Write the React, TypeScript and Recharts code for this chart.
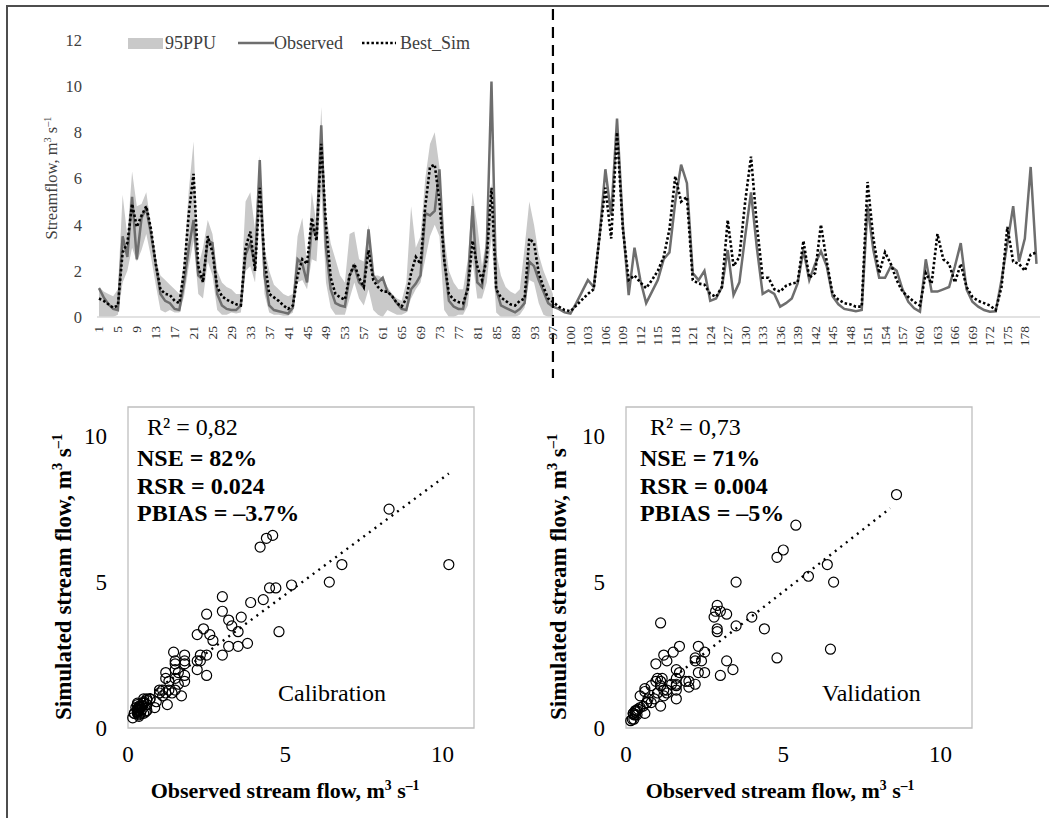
import React from 'react';
import {
  ComposedChart,
  Area,
  Line,
  XAxis,
  YAxis,
  ReferenceLine,
  ReferenceArea,
  ScatterChart,
  Scatter,
} from 'recharts';

const SERIF = '"Liberation Serif", "Times New Roman", serif';

// monthly streamflow, calibration period (months 1-97)
const calObserved = [
  1.25, 0.85, 0.55, 0.35, 0.3, 3.5, 2.6, 5.2, 2.5, 4.3,
  4.7, 3.6, 2.3, 1.0, 0.7, 0.6, 0.35, 0.3, 1.5, 3.0,
  4.2, 1.8, 1.6, 3.3, 3.2, 1.0, 0.5, 0.35, 0.3, 0.3,
  0.5, 2.7, 3.2, 2.2, 6.8, 1.8, 0.5, 0.3, 0.25, 0.2,
  0.15, 0.4, 2.5, 2.3, 1.5, 3.9, 3.5, 8.3, 3.0, 1.2,
  0.6, 0.5, 0.45, 1.8, 2.2, 1.5, 1.3, 3.8, 1.8, 1.5,
  1.7, 1.1, 0.9, 0.6, 0.35, 0.3, 1.2, 1.45, 1.8, 4.5,
  4.4, 4.6, 6.4, 2.5, 0.7, 0.45, 0.35, 0.35, 1.4, 4.8,
  1.5, 1.3, 3.0, 10.2, 1.2, 0.5, 0.4, 0.3, 0.2, 0.35,
  0.6, 2.4, 2.2, 1.6, 1.1, 0.6, 0.45,
];
const calSimulated = [
  0.8, 0.7, 0.55, 0.4, 0.5, 2.8, 3.2, 4.9, 3.9, 4.4,
  4.8, 3.8, 2.3, 1.2, 1.0, 0.95, 0.7, 0.6, 2.0, 4.5,
  6.2, 2.2, 1.5, 3.5, 2.8, 1.3, 0.9, 0.75, 0.65, 0.55,
  0.5, 3.0, 3.7, 2.0, 5.6, 2.5, 1.0, 0.85, 0.7, 0.5,
  0.35, 0.5, 1.8, 2.5, 2.3, 4.3, 3.3, 7.5, 4.0, 1.7,
  1.0, 0.85, 0.75, 1.8, 2.3, 1.7, 1.3, 2.9, 1.6, 1.3,
  1.1, 1.1, 0.9, 0.6, 0.45, 0.8, 1.9, 2.6, 2.3, 4.8,
  6.5, 6.6, 5.0, 2.5, 1.0, 0.75, 0.65, 0.6, 1.2, 3.3,
  2.2, 1.6, 2.5, 5.6, 1.2, 0.85, 0.7, 0.55, 0.5, 0.7,
  0.8, 3.4, 3.2, 1.9, 1.3, 0.8, 0.65,
];
const ppuLower = [
  0, 0, 0, 0, 0.1, 1.5, 2.0, 3.0, 2.4, 2.9,
  3.6, 2.6, 1.4, 0.3, 0.2, 0.3, 0.2, 0.2, 0.9, 2.2,
  3.3, 1.0, 0.8, 2.4, 1.8, 0.3, 0.1, 0.1, 0.2, 0.15,
  0.2, 2.0, 2.2, 1.5, 4.5, 1.0, 0.2, 0.1, 0.1, 0.05,
  0.05, 0.2, 1.5, 1.6, 1.2, 2.5, 2.4, 5.5, 1.5, 0.4,
  0.1, 0.1, 0.1, 0.8, 1.5, 0.8, 0.5, 1.2, 0.3, 0.1,
  0, 0.3, 0.2, 0.1, 0.1, 0.2, 0.8, 1.2, 1.5, 2.5,
  3.5, 4.0, 3.5, 0.3, 0, 0, 0.1, 0.1, 0.5, 2.4,
  0.8, 0.8, 1.5, 3.5, 0.2, 0, 0, 0, 0, 0.1,
  0.4, 1.6, 1.5, 0.6, 0.1, 0, 0,
];
const ppuUpper = [
  1.3, 1.1, 1.0, 0.9, 1.2, 5.3, 3.5, 6.3, 4.8, 4.9,
  5.4, 4.0, 2.5, 1.8, 1.6, 1.4, 1.2, 1.0, 2.5, 5.5,
  7.6, 2.2, 3.0, 4.2, 3.6, 2.0, 1.5, 1.3, 1.2, 1.0,
  1.0, 5.0, 5.4, 3.8, 7.0, 3.0, 2.0, 1.4, 1.2, 1.0,
  0.9, 1.0, 3.5, 4.3, 2.3, 5.4, 4.0, 9.1, 4.5, 3.2,
  2.5, 1.8, 1.5, 3.6, 3.7, 2.5, 2.4, 4.0, 1.8, 1.8,
  1.7, 1.3, 1.0, 0.8, 0.7, 1.5, 4.8, 3.0, 3.5, 6.0,
  7.5, 8.0, 6.5, 3.5, 2.0, 1.5, 1.2, 1.2, 2.5, 5.4,
  4.0, 2.2, 3.5, 5.8, 2.8, 1.8, 1.3, 1.1, 1.0, 1.2,
  3.0, 5.0, 4.0, 2.7, 2.0, 1.5, 1.0,
];

// validation period (months 98-180)
const valObserved = [
  0.35, 0.2, 0.15, 0.6, 1.1, 1.6, 1.3, 3.5, 6.4, 4.4,
  8.6, 4.0, 0.95, 3.0, 1.6, 0.6, 1.1, 1.6, 2.5, 2.8,
  5.0, 6.6, 5.8, 1.9, 1.6, 2.0, 0.7, 0.8, 1.3, 2.9,
  0.95, 1.5, 3.5, 5.4, 3.0, 1.0, 1.15, 1.0, 0.45, 0.6,
  0.8, 1.45, 2.9, 1.6, 2.3, 2.85, 2.2, 0.9, 0.55, 0.35,
  0.3, 0.25, 0.3, 4.8, 2.9, 1.7, 1.7, 2.2, 2.0, 1.2,
  0.66, 0.38, 0.23, 2.5, 1.1, 1.1, 1.2, 1.3, 2.2, 3.2,
  1.2, 0.66, 0.45, 0.3, 0.23, 0.25, 1.6, 3.2, 4.8, 2.4,
  3.4, 6.5, 2.3,
];
const valSimulated = [
  0.45, 0.3, 0.25, 0.5, 0.75, 1.0, 1.2, 3.5, 5.6, 3.4,
  8.0, 3.8, 1.6, 1.8, 1.5, 1.25, 1.6, 2.0, 2.6, 3.8,
  6.1, 5.0, 5.2, 1.6, 1.45, 1.4, 1.0, 0.87, 1.3, 4.2,
  2.2, 2.6, 5.0, 6.95, 4.0, 1.7, 1.7, 1.2, 1.1, 1.35,
  1.45, 1.5, 3.3, 1.7, 1.9, 4.0, 2.4, 1.0, 0.75, 0.6,
  0.55, 0.45, 0.45, 5.85, 3.4, 1.9, 2.8, 2.3, 1.6, 1.1,
  0.87, 0.65, 0.5, 1.9, 1.45, 3.6, 2.5, 2.3, 1.5, 2.3,
  1.3, 0.87, 0.7, 0.6, 0.5, 0.3, 1.3, 3.9, 2.4, 2.3,
  2.0, 2.7, 2.8,
];

const xTickLabels = [
  1, 5, 9, 13, 17, 21, 25, 29, 33, 37, 41, 45, 49, 53, 57, 61, 65, 69, 73, 77, 81, 85, 89, 93, 97,
  100, 103, 106, 109, 112, 115, 118, 121, 124, 127, 130, 133, 136, 139, 142, 145, 148, 151, 154,
  157, 160, 163, 166, 169, 172, 175, 178,
];
const flowTicks = [0, 2, 4, 6, 8, 10, 12];
const scatterTicks = [0, 5, 10];

// trendlines
const calTrend = [{ x: 0.15, y: 0.7 }, { x: 10.2, y: 8.72 }];
const valTrend = [{ x: 0.15, y: 0.59 }, { x: 8.4, y: 7.53 }];

// the reference axis is drawn wider per month after the split
const SPLIT = 97;
const STRETCH = 1.232;
const warp = (m: number) => (m <= SPLIT ? m : SPLIT + (m - SPLIT) * STRETCH);
const unwarp = (v: number) => Math.round(v <= SPLIT ? v : SPLIT + (v - SPLIT) / STRETCH);

const observed = [...calObserved, ...valObserved];
const simulated = [...calSimulated, ...valSimulated];
const rows = observed.map((o, i) => ({
  month: i + 1,
  obs: o,
  sim: simulated[i],
  ppu: i < ppuLower.length ? [ppuLower[i], ppuUpper[i]] : null,
}));

const calPoints = calObserved.map((o, i) => ({ x: o, y: calSimulated[i] }));
const valPoints = valObserved.map((o, i) => ({ x: o, y: valSimulated[i] }));

function MonthTick(props: any) {
  const { x, y, payload } = props;
  return (
    <text
      x={x}
      y={y}
      transform={`rotate(-90 ${x} ${y})`}
      textAnchor="end"
      dominantBaseline="central"
      fontSize={13.5}
      fontFamily={SERIF}
      fill="#333"
    >
      {unwarp(payload.value)}
    </text>
  );
}

function SplitLine(props: any) {
  const top = Math.min(props.y1, props.y2);
  const bottom = Math.max(props.y1, props.y2);
  return (
    <line
      x1={props.x1}
      x2={props.x2}
      y1={top - 31}
      y2={bottom + 61}
      stroke="#000"
      strokeWidth={2.2}
      strokeDasharray="11 7"
    />
  );
}

function Ring(props: any) {
  return <circle cx={props.cx} cy={props.cy} r={5} fill="none" stroke="#000" strokeWidth={1.2} />;
}

const abs = (left: number, top: number): React.CSSProperties => ({ position: 'absolute', left, top });
const sup: React.CSSProperties = { fontSize: '0.62em', verticalAlign: 'super', lineHeight: 0 };

function Units() {
  return (
    <>
      m<span style={sup}>3</span> s<span style={sup}>–1</span>
    </>
  );
}

function FitChart({ points, trend, left }: { points: { x: number; y: number }[]; trend: { x: number; y: number }[]; left: number }) {
  const tick = { fontSize: 23, fill: '#000', fontFamily: SERIF };
  return (
    <div style={abs(left, 380)}>
      <ScatterChart width={493} height={438} margin={{ top: 27, right: 18, bottom: 50, left: 0 }}>
        <XAxis
          type="number"
          dataKey="x"
          domain={[0, 11]}
          ticks={scatterTicks}
          tickLine={false}
          axisLine={false}
          tickSize={0}
          tickMargin={18}
          height={40}
          tick={tick}
        />
        <YAxis
          type="number"
          dataKey="y"
          domain={[0, 11]}
          ticks={scatterTicks}
          width={129}
          tickLine={false}
          axisLine={false}
          tickSize={0}
          tickMargin={21}
          tick={tick}
        />
        <ReferenceArea x1={0} x2={11} y1={0} y2={11} fill="none" stroke="#bfbfbf" strokeWidth={1.3} ifOverflow="visible" />
        <ReferenceLine segment={trend} stroke="#000" strokeWidth={2.4} strokeDasharray="2 5" />
        <Scatter data={points} shape={Ring} isAnimationActive={false} />
      </ScatterChart>
    </div>
  );
}

function Stats({ left, top, r2, lines, label, labelLeft }: any) {
  return (
    <>
      <div style={{ ...abs(left + 10, top), fontSize: 24, lineHeight: '26px', whiteSpace: 'nowrap' }}>{r2}</div>
      <div style={{ ...abs(left, top + 31), fontSize: 24, lineHeight: '27.5px', fontWeight: 'bold', whiteSpace: 'nowrap' }}>
        {lines.map((l: string) => (
          <div key={l}>{l}</div>
        ))}
      </div>
      <div style={{ ...abs(labelLeft, 680), fontSize: 24, lineHeight: '26px' }}>{label}</div>
    </>
  );
}

export default function App() {
  return (
    <div
      style={{
        position: 'absolute',
        left: 0,
        top: 0,
        width: 1049,
        height: 818,
        overflow: 'hidden',
        background: '#fff',
        fontFamily: SERIF,
        color: '#000',
      }}
    >
      <div
        style={{
          ...abs(6, 5),
          width: 1200,
          height: 1000,
          borderTop: '2px solid #4d4d4d',
          borderLeft: '2px solid #4d4d4d',
        }}
      />

      <div style={abs(0, 0)}>
        <ComposedChart width={1049} height={380} data={rows} margin={{ top: 40, right: 9, bottom: 13, left: 0 }}>
          <XAxis
            type="number"
            dataKey={(d: any) => warp(d.month)}
            domain={[0.58, 200]}
            allowDataOverflow
            ticks={xTickLabels.map(warp)}
            interval={0}
            tick={<MonthTick />}
            tickLine={false}
            tickSize={0}
            tickMargin={9}
            height={50}
            axisLine={{ stroke: '#d9d9d9', strokeWidth: 1.5 }}
          />
          <YAxis
            type="number"
            domain={[0, 12]}
            ticks={flowTicks}
            width={97}
            tickLine={false}
            axisLine={false}
            tickSize={0}
            tickMargin={15}
            tick={{ fontSize: 16.5, fill: '#404040', fontFamily: SERIF }}
          />
          <Area dataKey="ppu" type="linear" stroke="none" fill="#c9c9c9" fillOpacity={1} isAnimationActive={false} />
          <Line dataKey="obs" type="linear" stroke="#6e6e6e" strokeWidth={2.5} dot={false} isAnimationActive={false} />
          <Line
            dataKey="sim"
            type="linear"
            stroke="#000"
            strokeWidth={2.6}
            strokeDasharray="2.5 2.2"
            dot={false}
            isAnimationActive={false}
          />
          <ReferenceLine x={warp(SPLIT)} shape={SplitLine} ifOverflow="visible" />
        </ComposedChart>
      </div>

      {/* legend */}
      <div style={{ ...abs(128, 32), display: 'flex', alignItems: 'center', fontSize: 18, lineHeight: '22px', color: '#404040' }}>
        <span style={{ display: 'inline-block', width: 35, height: 11, background: '#c9c9c9', marginRight: 2 }} />
        <span>95PPU</span>
        <svg width={36} height={10} style={{ marginLeft: 22 }}>
          <line x1={0} x2={36} y1={5} y2={5} stroke="#6e6e6e" strokeWidth={2.5} />
        </svg>
        <span>Observed</span>
        <svg width={34} height={10} style={{ marginLeft: 19, marginRight: 4 }}>
          <line x1={0} x2={34} y1={5} y2={5} stroke="#000" strokeWidth={2.6} strokeDasharray="2.5 2.2" />
        </svg>
        <span>Best_Sim</span>
      </div>

      {/* top y-axis title */}
      <div
        style={{
          ...abs(52 - 100, 178 - 11),
          width: 200,
          height: 22,
          lineHeight: '22px',
          textAlign: 'center',
          transform: 'rotate(-90deg)',
          fontSize: 16.5,
          color: '#404040',
          whiteSpace: 'nowrap',
        }}
      >
        Streamflow, <Units />
      </div>

      <FitChart points={calPoints} trend={calTrend} left={-1} />
      <FitChart points={valPoints} trend={valTrend} left={497} />

      <Stats
        left={137}
        top={414}
        r2="R² = 0,82"
        lines={['NSE = 82%', 'RSR = 0.024', 'PBIAS = –3.7%']}
        label="Calibration"
        labelLeft={278}
      />
      <Stats
        left={640}
        top={414}
        r2="R² = 0,73"
        lines={['NSE = 71%', 'RSR = 0.004', 'PBIAS = –5%']}
        label="Validation"
        labelLeft={822}
      />

      {[285, 780].map((cx) => (
        <div
          key={`x${cx}`}
          style={{
            ...abs(cx - 200, 778),
            width: 400,
            textAlign: 'center',
            fontSize: 22,
            lineHeight: '26px',
            fontWeight: 'bold',
            whiteSpace: 'nowrap',
          }}
        >
          Observed stream flow, <Units />
        </div>
      ))}
      {[64, 559].map((cx) => (
        <div
          key={`y${cx}`}
          style={{
            ...abs(cx - 200, 577 - 13),
            width: 400,
            height: 26,
            textAlign: 'center',
            fontSize: 23,
            lineHeight: '26px',
            fontWeight: 'bold',
            transform: 'rotate(-90deg)',
            whiteSpace: 'nowrap',
          }}
        >
          Simulated stream flow, <Units />
        </div>
      ))}
    </div>
  );
}
